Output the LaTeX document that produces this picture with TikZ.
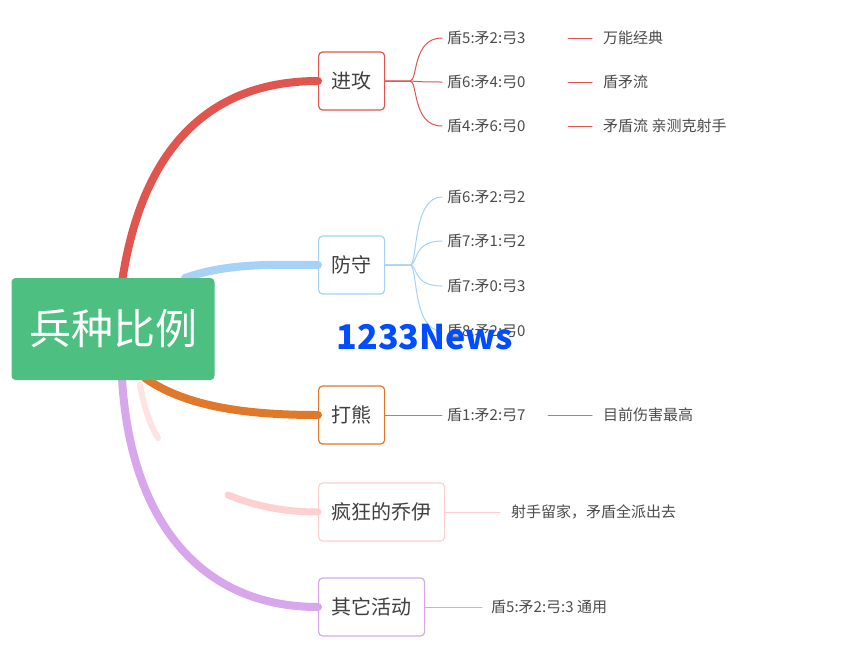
\documentclass[tikz,border=0pt]{standalone}
\usepackage{fontspec}
\setmainfont{Noto Sans CJK SC}
\begin{document}
\begin{tikzpicture}[x=1pt,y=-1pt,
 box/.style={draw=#1,line width=1.2pt,rounded corners=4pt,fill=white,minimum height=58pt,inner xsep=13pt,font=\fontsize{20}{21}\selectfont,text=black!75},
 leaf/.style={anchor=west,inner sep=1pt,font=\fontsize{15}{16}\selectfont,text=black!70},
 br/.style={draw=#1,line width=1pt,line cap=round},
 main/.style={draw=#1,line width=8pt,line cap=round}]
\useasboundingbox (0,0) rectangle (849,667);
\fill[white] (0,0) rectangle (849,667);
\definecolor{cr}{HTML}{E0564E}\definecolor{cb}{HTML}{A6D2F7}\definecolor{co}{HTML}{E0782A}
\definecolor{cp}{HTML}{FFD0D0}\definecolor{cv}{HTML}{D8A6EA}\definecolor{cg}{HTML}{4DBF80}
\coordinate (r1) at (122,282);\coordinate (r2) at (185,278);\coordinate (r3) at (145,378);\coordinate (r5) at (122,378);
\node[box=cr,anchor=west] (a) at (318,81) {进攻};
\node[box=cb,anchor=west] (b) at (318,265) {防守};
\node[box=co,anchor=west] (c) at (318,415) {打熊};
\node[box=cp,anchor=west] (d) at (318,512) {疯狂的乔伊};
\node[box=cv,anchor=west] (e) at (318,607) {其它活动};
\draw[main=cr] (r1) .. controls (140,160) and (200,81) .. (a.west);
\draw[main=cb] (r2) .. controls (230,262) and (280,265) .. (b.west);
\draw[main=co] (r3) .. controls (190,410) and (260,415) .. (c.west);
\draw[main=cv] (r5) .. controls (130,520) and (200,607) .. (e.west);
\draw[main=cp,line width=7pt] (228,495) .. controls (260,508) and (290,512) .. (d.west);
\draw[main=cp!60,line width=6pt] (140,385) .. controls (145,410) and (150,425) .. (158,438);
\node[fill=cg,rounded corners=4pt,minimum width=203pt,minimum height=102pt,text=white,font=\fontsize{42}{44}\selectfont] (root) at (113,329) {兵种比例};
\foreach \n/\y/\t/\s in {a1/38/盾5:矛2:弓3/万能经典,a2/82/盾6:矛4:弓0/盾矛流,a3/126/盾4:矛6:弓0/矛盾流 亲测克射手}{
 \node[leaf] (\n) at (446,\y) {\t};
 \node[leaf] (\n s) at (602,\y) {\s};
 \draw[br=cr] (568,\y) -- ([xshift=-10pt]\n s.west);
 \draw[br=cr] (a.east) -- (410,81) .. controls (418,81) and (412,\y) .. ([xshift=-4pt]\n.west);
}
\foreach \n/\y/\t in {b1/197/盾6:矛2:弓2,b2/241/盾7:矛1:弓2,b3/286/盾7:矛0:弓3,b4/331/盾8:矛2:弓0}{
 \node[leaf] (\n) at (446,\y) {\t};
 \draw[br=cb] (b.east) -- (410,265) .. controls (418,265) and (412,\y) .. ([xshift=-4pt]\n.west);
}
\node[leaf] (c1) at (446,415) {盾1:矛2:弓7};
\node[leaf] (c1s) at (602,415) {目前伤害最高};
\draw[br=co] (c.east) -- ([xshift=-4pt]c1.west);
\draw[br=co] (548,415) -- ([xshift=-10pt]c1s.west);
\node[leaf] (d1) at (510,512) {射手留家，矛盾全派出去};
\draw[br=cp] (d.east) -- ([xshift=-10pt]d1.west);
\node[leaf] (e1) at (490,607) {盾5:矛2:弓:3 通用};
\draw[br=cv] (e.east) -- ([xshift=-8pt]e1.west);
\node[text=blue!70!cyan,font=\bfseries\fontsize{34}{36}\selectfont] (wm) at (425,337) {1233News};
\end{tikzpicture}
\end{document}
